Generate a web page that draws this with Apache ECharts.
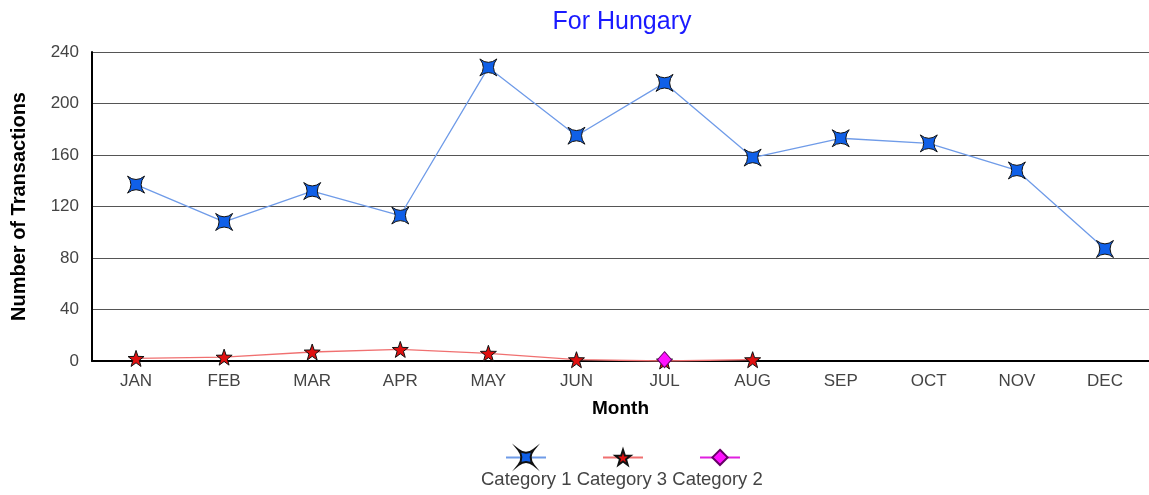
<!DOCTYPE html>
<html>
<head>
<meta charset="utf-8">
<script src="https://cdn.jsdelivr.net/npm/echarts@6/dist/echarts.min.js"></script>
<style>
  html, body { margin: 0; padding: 0; background: #fff; }
  #chart { width: 1149px; height: 495px; }
</style>
</head>
<body>
<div id="chart"></div>
<script>
const months = ["JAN", "FEB", "MAR", "APR", "MAY", "JUN", "JUL", "AUG", "SEP", "OCT", "NOV", "DEC"];
const category1 = [137, 108, 132, 113, 228, 175, 216, 158, 173, 169, 148, 87];
const category3 = [2, 3, 7, 9, 6, 1, 0, 1, null, null, null, null];
const category2 = [null, null, null, null, null, null, 1, null, null, null, null, null];
const yTicks = { min: 0, max: 240, interval: 40 };

// four-point star (points to the corners) and five-point star
const fourStar = "path://M-10,-10 Q0,-2 10,-10 Q2,0 10,10 Q0,2 -10,10 Q-2,0 -10,-10 Z";
const fiveStar = "path://M0,-10 L2.35,-3.24 L9.51,-3.09 L3.8,1.24 L5.88,8.09 L0,4 L-5.88,8.09 L-3.8,1.24 L-9.51,-3.09 L-2.35,-3.24 Z";
const font = "Liberation Sans, Arial";
const labelColor = "#444";

const chart = echarts.init(document.getElementById("chart"));

chart.setOption({
    animation: false,
    backgroundColor: "#fff",
    title: {
        text: "For Hungary",
        left: 617,
        textAlign: "center",
        top: 5,
        textStyle: { color: "#1a1aff", fontSize: 25, fontWeight: "normal", fontFamily: font }
    },
    grid: { left: 92, right: -5, top: 52, bottom: 134 },
    xAxis: {
        type: "category",
        data: months,
        name: "Month",
        nameLocation: "middle",
        nameGap: 38,
        nameTextStyle: { color: "#000", fontSize: 19, fontWeight: "bold", fontFamily: font },
        axisLine: { lineStyle: { color: "#000", width: 2 } },
        axisTick: { show: false },
        axisLabel: { color: labelColor, fontSize: 17, margin: 12, fontFamily: font }
    },
    yAxis: {
        type: "value",
        min: yTicks.min,
        max: yTicks.max,
        interval: yTicks.interval,
        name: "Number of Transactions",
        nameLocation: "middle",
        nameGap: 63,
        nameTextStyle: { color: "#000", fontSize: 20, fontWeight: "bold", fontFamily: font },
        axisLine: { show: true, lineStyle: { color: "#000", width: 2 } },
        axisTick: { show: false },
        axisLabel: { color: labelColor, fontSize: 17, margin: 13, fontFamily: font },
        splitLine: { lineStyle: { color: "#555", width: 1.2 } }
    },
    legend: {
        bottom: 24,
        left: 500,
        itemWidth: 40,
        itemHeight: 19,
        itemGap: 55,
        formatter: () => "",
        data: ["Category 1", "Category 3", "Category 2"]
    },
    graphic: [
        {
            type: "text",
            left: 481,
            top: 470,
            style: {
                text: "Category 1 Category 3 Category 2",
                fill: labelColor,
                fontSize: 18.5,
                fontFamily: font
            }
        }
    ],
    series: [
        {
            name: "Category 1",
            type: "line",
            data: category1,
            symbol: fourStar,
            symbolSize: 17,
            lineStyle: { color: "#6f9be8", width: 1.3 },
            itemStyle: { color: "#1060e8", borderColor: "#111", borderWidth: 1 }
        },
        {
            name: "Category 3",
            type: "line",
            data: category3,
            symbol: fiveStar,
            symbolSize: 16,
            lineStyle: { color: "#f07070", width: 1.3 },
            itemStyle: { color: "#e01010", borderColor: "#111", borderWidth: 1 }
        },
        {
            name: "Category 2",
            type: "line",
            data: category2,
            symbol: "diamond",
            symbolSize: [14, 16],
            lineStyle: { color: "#e020e0", width: 1.3 },
            itemStyle: { color: "#ff10ff", borderColor: "#660066", borderWidth: 1 }
        }
    ]
});
</script>
</body>
</html>
